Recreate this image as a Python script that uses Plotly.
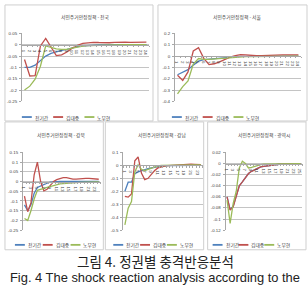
import plotly.graph_objects as go

W, H = 308, 298

series_names = ["전기간", "김대중", "노무현"]
series_colors = ["#4F81BD", "#C0504D", "#9BBB59"]

steps24 = list(range(1, 25))
steps25 = list(range(1, 26))

# 전국
blue_nat = [-0.10, -0.10, -0.09, -0.07, -0.05, -0.038, -0.03, -0.025, -0.02, -0.013, -0.008, -0.005,
            -0.003, -0.002, -0.001, -0.001, 0, 0, 0, 0, 0, 0, 0, 0]
red_nat = [-0.065, -0.138, -0.136, -0.005, 0.028, -0.01, -0.048, -0.045, -0.032, -0.015, -0.002, 0.006,
           0.01, 0.011, 0.01, 0.008, 0.009, 0.011, 0.013, 0.012, 0.011, 0.012, 0.012, 0.012]
green_nat = [-0.2, -0.183, -0.152, -0.095, -0.005, -0.012, -0.018, -0.02, -0.02, -0.015, -0.01, -0.006,
             -0.004, -0.003, -0.002, -0.002, -0.001, -0.001, -0.001, 0, 0, 0, 0, 0]

# 서울
blue_seo = [-0.165, -0.14, -0.12, -0.08, -0.045, -0.032, -0.027, -0.022, -0.017, -0.012, -0.008, -0.005,
            -0.003, -0.002, -0.001, 0, 0, 0, 0, 0, 0, 0, 0, 0]
red_seo = [-0.17, -0.215, -0.14, 0.045, 0.075, -0.02, -0.075, -0.068, -0.052, -0.03, -0.01, 0.004,
           0.012, 0.01, 0.005, 0.003, 0.004, 0.007, 0.009, 0.01, 0.01, 0.01, 0.01, 0.01]
green_seo = [-0.335, -0.27, -0.22, -0.07, -0.022, -0.03, -0.03, -0.026, -0.021, -0.016, -0.012, -0.009,
             -0.006, -0.005, -0.004, -0.003, -0.003, -0.002, -0.002, -0.002, -0.001, -0.001, -0.001, -0.001]

# 강북
blue_gb = [-0.12, -0.15, -0.12, -0.06, -0.03, -0.022, -0.015, -0.008, -0.003, -0.001, 0, 0.001,
           0.001, 0.001, 0.001, 0.001, 0.001, 0.001, 0.001, 0.001, 0.001, 0.001, 0.001, 0.001]
red_gb = [-0.075, -0.155, -0.11, 0.035, 0.1, 0.0, -0.048, -0.04, -0.02, 0.0, 0.01, 0.016,
          0.02, 0.02, 0.016, 0.013, 0.013, 0.015, 0.016, 0.016, 0.016, 0.015, 0.015, 0.012]
green_gb = [-0.19, -0.2, -0.15, -0.09, -0.045, -0.038, -0.035, -0.03, -0.025, -0.02, -0.015, -0.012,
            -0.01, -0.008, -0.007, -0.006, -0.005, -0.004, -0.004, -0.003, -0.003, -0.002, -0.002, -0.002]

# 강남
blue_gn = [-0.2, -0.13, -0.13, -0.065, -0.05, -0.04, -0.032, -0.026, -0.02, -0.015, -0.01, -0.006,
           -0.003, -0.002, -0.001, 0, 0, 0, 0, 0, 0, 0, 0, 0]
red_gn = [-0.24, -0.245, -0.22, 0.035, 0.065, -0.06, -0.11, -0.1, -0.07, -0.04, -0.02, -0.01,
          -0.005, -0.002, 0.0, 0.003, 0.006, 0.01, 0.01, 0.009, 0.01, 0.008, 0.007, 0.005]
green_gn = [-0.46, -0.33, -0.28, -0.05, 0.005, -0.03, -0.04, -0.03, -0.02, -0.01, -0.004, -0.001,
            0, 0.001, 0.002, 0.002, 0.003, 0.003, 0.004, 0.004, 0.004, 0.004, 0.004, 0.004]

# 광역시
blue_gy = [-0.06, -0.083, -0.077, -0.059, -0.04, -0.033, -0.025, -0.018, -0.014, -0.011, -0.009, -0.006,
           -0.005, -0.004, -0.003, -0.002, -0.0015, -0.0013, -0.0011, -0.001, -0.0008, -0.0007, -0.0006, -0.0005, -0.0005]
red_gy = [-0.06, -0.084, -0.078, -0.06, -0.04, -0.033, -0.025, -0.018, -0.014, -0.011, -0.009, -0.006,
          -0.005, -0.004, -0.003, -0.002, -0.0015, -0.0013, -0.0011, -0.001, -0.0008, -0.0007, -0.0006, -0.0005, -0.0005]
green_gy = [-0.066, -0.108, -0.072, -0.05, -0.008, 0.004, 0.0, -0.008, -0.007, -0.005, -0.003, -0.002,
            -0.001, -0.001, -0.0006, -0.0004, -0.0003, -0.0002, -0.0002, -0.0001, 0, 0, 0, 0, 0]

titles = ["서민주거안정정책 - 전국", "서민주거안정정책 - 서울", "서민주거안정정책 - 강북",
          "서민주거안정정책 - 강남", "서민주거안정정책 - 광역시"]

yt_nat = [0.05, 0, -0.05, -0.1, -0.15, -0.2, -0.25]
yl_nat = ["0.05", "0", "-0.05", "-0.1", "-0.15", "-0.2", "-0.25"]
yt_seo = [0.2, 0.1, 0, -0.1, -0.2, -0.3, -0.4]
yl_seo = ["0.2", "0.1", "0", "-0.1", "-0.2", "-0.3", "-0.4"]
yt_gb = [0.15, 0.1, 0.05, 0, -0.05, -0.1, -0.15, -0.2, -0.25]
yl_gb = ["0.15", "0.1", "0.05", "0", "-0.05", "-0.1", "-0.15", "-0.2", "-0.25"]
yt_gn = [0.1, 0, -0.1, -0.2, -0.3, -0.4, -0.5]
yl_gn = ["0.1", "0", "-0.1", "-0.2", "-0.3", "-0.4", "-0.5"]
yt_gy = [0.02, 0, -0.02, -0.04, -0.06, -0.08, -0.1, -0.12]
yl_gy = ["0.02", "0", "-0.02", "-0.04", "-0.06", "-0.08", "-0.1", "-0.12"]

caption_ko = "그림 4. 정권별 충격반응분석"
caption_en = "Fig. 4 The shock reaction analysis according to the"

# layout (pixel boxes)
panels = [
    dict(x=steps24, ys=[blue_nat, red_nat, green_nat], yt=yt_nat, yl=yl_nat, xt=steps24,
         px=(20, 148), py=(32, 101), frame=(3, 3, 152, 121), title_y=15, leg=(20, 117), legstep=31.5),
    dict(x=steps24, ys=[blue_seo, red_seo, green_seo], yt=yt_seo, yl=yl_seo, xt=steps24,
         px=(174, 301), py=(32, 101), frame=(157, 3, 307, 121), title_y=15, leg=(171, 117), legstep=31),
    dict(x=steps24, ys=[blue_gb, red_gb, green_gb], yt=yt_gb, yl=yl_gb, xt=steps24[::2],
         px=(21, 99), py=(153, 232), frame=(3, 122, 102, 252), title_y=135, leg=(13, 247), legstep=28),
    dict(x=steps24, ys=[blue_gn, red_gn, green_gn], yt=yt_gn, yl=yl_gn, xt=steps24[::2],
         px=(122, 202), py=(153, 232), frame=(104, 122, 203, 252), title_y=135, leg=(112, 247), legstep=27),
    dict(x=steps25, ys=[blue_gy, red_gy, green_gy], yt=yt_gy, yl=yl_gy, xt=steps25[::2],
         px=(225, 302), py=(153, 232), frame=(207, 122, 306, 252), title_y=135, leg=(212, 247), legstep=26),
]


def fx(v):
    return v / W


def fy(v):
    return 1 - v / H


fig = go.Figure()
shapes = []
annotations = []
grid_c = "#c4c4c4"
axis_c = "#a8a8a8"
txt_c = "#404040"
tick_font = dict(family="Liberation Sans, Arial", size=4.4, color=txt_c)

for i, p in enumerate(panels):
    k = "" if i == 0 else str(i + 1)
    xa, ya = "x" + k, "y" + k
    for name, color, yv in zip(series_names, series_colors, p["ys"]):
        fig.add_trace(go.Scatter(x=p["x"], y=yv, mode="lines", name=name, showlegend=False,
                                 line=dict(color=color, width=1.3), xaxis=xa, yaxis=ya))
    ymin, ymax = min(p["yt"]), max(p["yt"])
    dy = (fy(p["py"][1]), fy(p["py"][0]))
    zero_pos = dy[0] + (0 - ymin) / (ymax - ymin) * (dy[1] - dy[0])
    n = len(p["x"])
    fig.layout["xaxis" + k] = dict(
        domain=[fx(p["px"][0]), fx(p["px"][1])], anchor="free", position=zero_pos,
        range=[0.5, n + 0.5], tickmode="array", tickvals=p["xt"], ticktext=[str(v) for v in p["xt"]],
        showgrid=False, zeroline=False, showline=True, linecolor=axis_c, linewidth=0.8,
        ticks="", tickfont=tick_font, ticklabelstandoff=1,
        minor=dict(tick0=0.5, dtick=1, ticks="outside", ticklen=1.5, tickcolor=axis_c, showgrid=False),
    )
    fig.layout["yaxis" + k] = dict(
        domain=list(dy), anchor=xa, range=[ymin, ymax], tickmode="array", tickvals=p["yt"],
        ticktext=p["yl"], showgrid=True, gridcolor=grid_c, gridwidth=0.7, zeroline=False,
        showline=True, linecolor=axis_c, linewidth=0.8, ticks="outside", ticklen=2, tickcolor=axis_c,
        tickfont=tick_font, ticklabelstandoff=1,
    )
    x0, y0, x1, y1 = p["frame"]
    shapes.append(dict(type="rect", xref="paper", yref="paper", x0=fx(x0), x1=fx(x1), y0=fy(y0), y1=fy(y1),
                       line=dict(color="#cfcfcf", width=1), layer="below"))
    annotations.append(dict(text=titles[i], x=fx((p["px"][0] + p["px"][1]) / 2), y=fy(p["title_y"]),
                            xref="paper", yref="paper", showarrow=False, xanchor="center", yanchor="middle",
                            font=dict(family="Noto Sans CJK KR", size=4.8, color=txt_c)))
    lx, ly = p["leg"]
    for j, (name, color) in enumerate(zip(series_names, series_colors)):
        sx = lx + j * p["legstep"]
        shapes.append(dict(type="line", xref="paper", yref="paper", x0=fx(sx), x1=fx(sx + 10),
                           y0=fy(ly), y1=fy(ly), line=dict(color=color, width=1.8)))
        annotations.append(dict(text=name, x=fx(sx + 11), y=fy(ly + 0.5), xref="paper", yref="paper",
                                showarrow=False, xanchor="left", yanchor="middle",
                                font=dict(family="Noto Sans CJK KR", size=4.8, color=txt_c)))

annotations.append(dict(text=caption_ko, x=0.5, y=fy(263), xref="paper", yref="paper", showarrow=False,
                        xanchor="center", yanchor="middle",
                        font=dict(family="Noto Sans CJK KR", size=13.5, color="#222222")))
annotations.append(dict(text=caption_en, x=0.5, y=fy(280), xref="paper", yref="paper", showarrow=False,
                        xanchor="center", yanchor="middle",
                        font=dict(family="Liberation Sans, Arial", size=12.9, color="#222222")))

fig.update_layout(width=W, height=H, margin=dict(l=0, r=0, t=0, b=0), paper_bgcolor="white",
                  plot_bgcolor="white", shapes=shapes, annotations=annotations, showlegend=False)

fig.write_html("out.html", config={"displayModeBar": False})
